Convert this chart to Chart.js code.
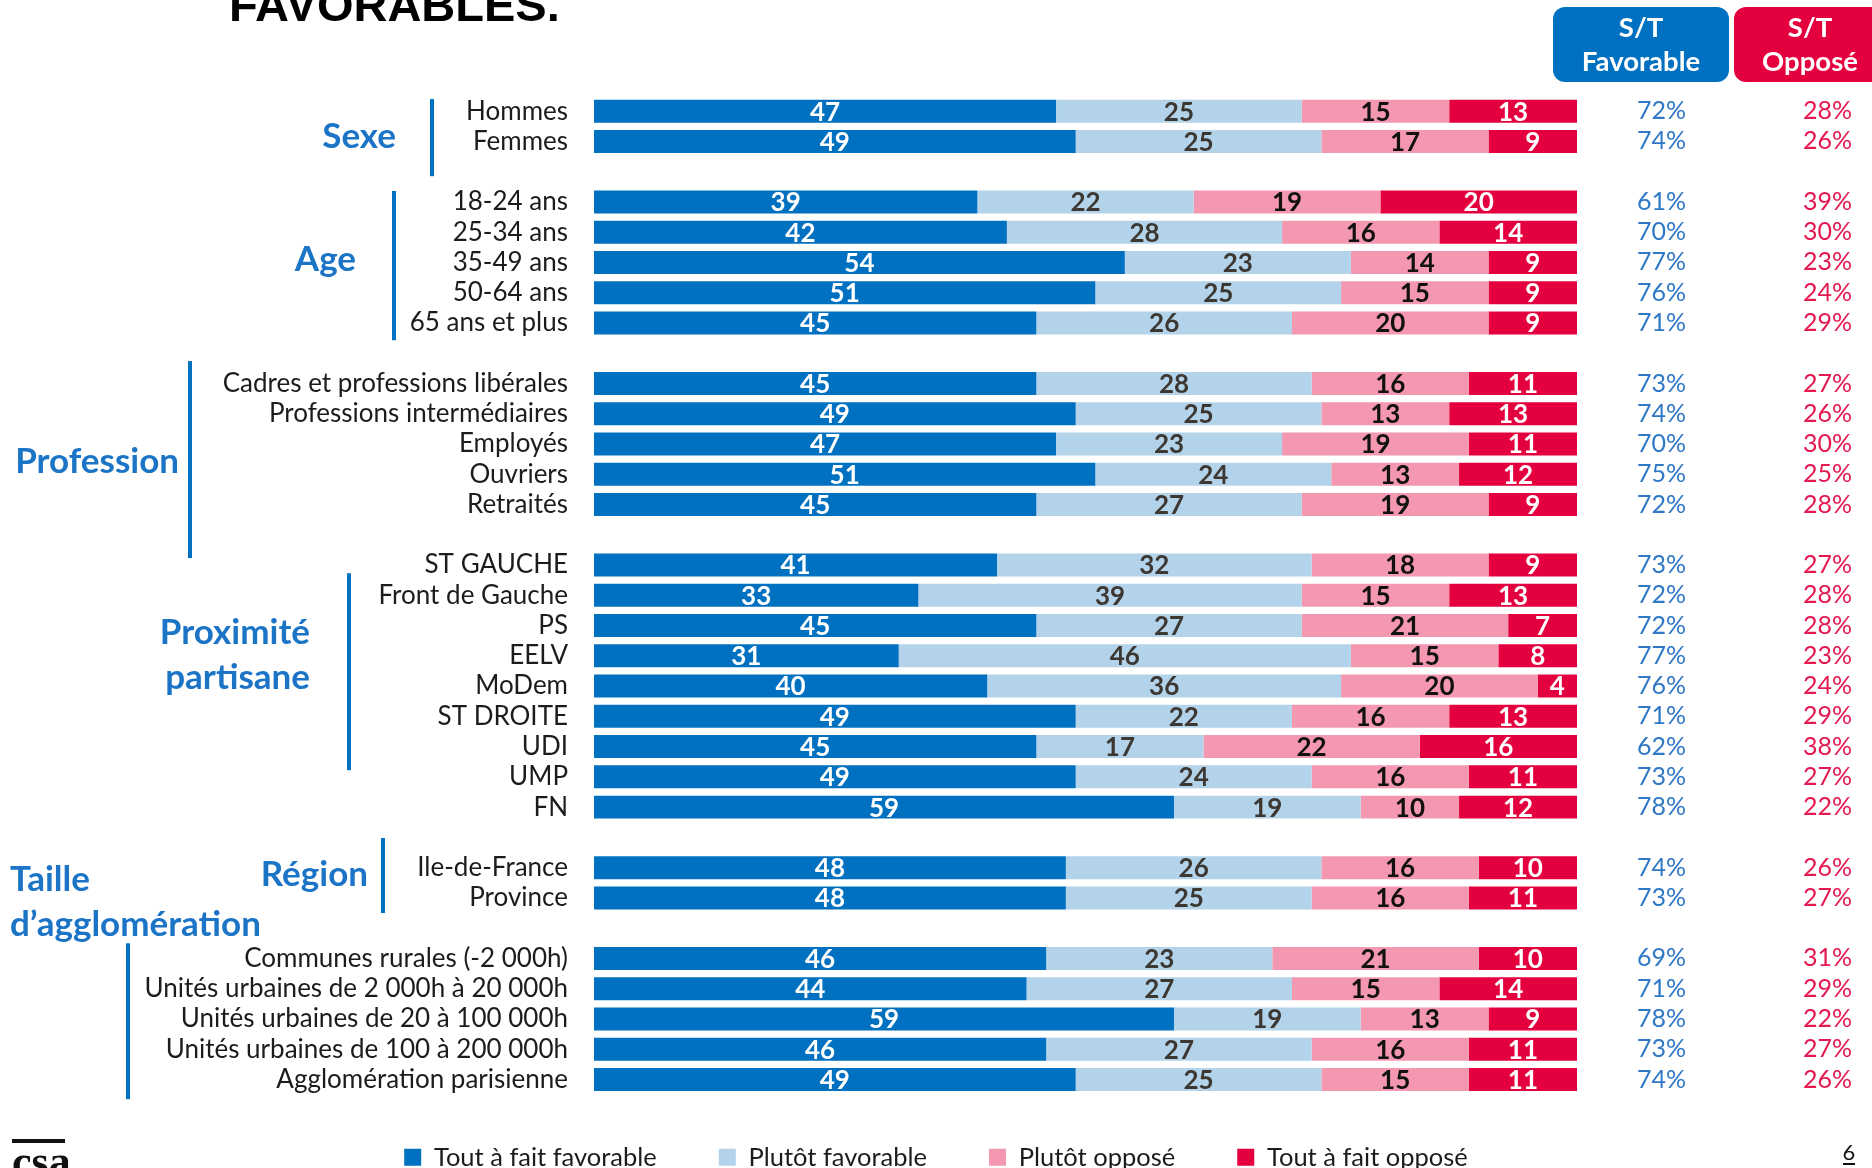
<!DOCTYPE html>
<html>
<head>
<meta charset="utf-8">
<script src="https://cdn.jsdelivr.net/npm/chart.js@4.4.1/dist/chart.umd.min.js"></script>
<style>
  html, body { margin: 0; padding: 0; background: #fff; }
  #wrap { position: relative; width: 1872px; height: 1168px; }
</style>
</head>
<body>
<div id="wrap"><canvas id="chart"></canvas></div>
<script>
// rows, '' = spacer between groups
const categories = [
  'Hommes', 'Femmes', '',
  '18-24 ans', '25-34 ans', '35-49 ans', '50-64 ans', '65 ans et plus', '',
  'Cadres et professions libérales', 'Professions intermédiaires', 'Employés', 'Ouvriers', 'Retraités', '',
  'ST GAUCHE', 'Front de Gauche', 'PS', 'EELV', 'MoDem', 'ST DROITE', 'UDI', 'UMP', 'FN', '',
  'Ile-de-France', 'Province', '',
  'Communes rurales (-2 000h)', 'Unités urbaines de 2 000h à 20 000h', 'Unités urbaines de 20 à 100 000h',
  'Unités urbaines de 100 à 200 000h', 'Agglomération parisienne'
];

const toutFavorable = [47, 49, null, 39, 42, 54, 51, 45, null, 45, 49, 47, 51, 45, null,
  41, 33, 45, 31, 40, 49, 45, 49, 59, null, 48, 48, null, 46, 44, 59, 46, 49];
const plutotFavorable = [25, 25, null, 22, 28, 23, 25, 26, null, 28, 25, 23, 24, 27, null,
  32, 39, 27, 46, 36, 22, 17, 24, 19, null, 26, 25, null, 23, 27, 19, 27, 25];
const plutotOppose = [15, 17, null, 19, 16, 14, 15, 20, null, 16, 13, 19, 13, 19, null,
  18, 15, 21, 15, 20, 16, 22, 16, 10, null, 16, 16, null, 21, 15, 13, 16, 15];
const toutOppose = [13, 9, null, 20, 14, 9, 9, 9, null, 11, 13, 11, 12, 9, null,
  9, 13, 7, 8, 4, 13, 16, 11, 12, null, 10, 11, null, 10, 14, 9, 11, 11];

const stFavorable = [72, 74, null, 61, 70, 77, 76, 71, null, 73, 74, 70, 75, 72, null,
  73, 72, 72, 77, 76, 71, 62, 73, 78, null, 74, 73, null, 69, 71, 78, 73, 74];
const stOppose = [28, 26, null, 39, 30, 23, 24, 29, null, 27, 26, 30, 25, 28, null,
  27, 28, 28, 23, 24, 29, 38, 27, 22, null, 26, 27, null, 31, 29, 22, 27, 26];

const seriesNames = ['Tout à fait favorable', 'Plutôt favorable', 'Plutôt opposé', 'Tout à fait opposé'];

const BLUE = '#0070C0', LIGHT = '#B2D3EA', PINK = '#F497B0', RED = '#E4003E';
const FAV_TXT = '#2F78C6', OPP_TXT = '#E4194F', GROUP_TXT = '#1B74C5';
const labelColors = ['#ffffff', '#3d3731', '#111111', '#ffffff'];

// group captions and their side bars, in row units
const groups = [
  { lines: ['Sexe'], row: 0.86, x: 396, align: 'right', bar: [432, -0.4, 2.15] },
  { lines: ['Age'], row: 4.9, x: 356, align: 'right', bar: [394, 2.64, 7.57] },
  { lines: ['Profession'], row: 11.57, x: 179, align: 'right', bar: [190, 8.26, 14.77] },
  { lines: ['Proximité', 'partisane'], row: 17.25, x: 310, align: 'right', bar: [349, 15.27, 21.78] },
  { lines: ['Région'], row: 25.25, x: 368, align: 'right', bar: [383, 24.02, 26.5] },
  { lines: ['Taille', 'd’agglomération'], row: 25.4, x: 10, align: 'left', bar: [128, 27.5, 32.65] }
];

const segmentLabels = {
  id: 'segmentLabels',
  afterDatasetsDraw(chart) {
    const ctx = chart.ctx;
    ctx.save();
    ctx.font = 'bold 26px Lato';
    ctx.textAlign = 'center';
    ctx.textBaseline = 'middle';
    chart.data.datasets.forEach((ds, i) => {
      chart.getDatasetMeta(i).data.forEach((bar, j) => {
        const v = ds.data[j];
        if (v == null) return;
        ctx.fillStyle = labelColors[i];
        ctx.fillText(v, (bar.x + bar.base) / 2, bar.y + 1);
      });
    });
    ctx.restore();
  }
};

const decor = {
  id: 'decor',
  afterLayout(chart) {
    // legend padding doubles as item spacing; lift the row back up
    // and let its clip box run to the bottom edge
    const lg = chart.legend;
    lg.top -= 12;
    lg.bottom = chart.height;
    lg.height = lg.bottom - lg.top;
  },
  afterDraw(chart) {
    const ctx = chart.ctx, y = chart.scales.y;
    ctx.save();

    // title (cut at top of slide)
    ctx.fillStyle = '#000';
    ctx.font = 'bold 47px "Liberation Sans"';
    ctx.textBaseline = 'alphabetic';
    ctx.textAlign = 'left';
    ctx.fillText('FAVORABLES.', 229, 21);

    // group bars + captions
    groups.forEach(g => {
      const [bx, r0, r1] = g.bar;
      ctx.fillStyle = BLUE;
      ctx.fillRect(bx - 2, y.getPixelForValue(r0), 4, y.getPixelForValue(r1) - y.getPixelForValue(r0));
      ctx.fillStyle = GROUP_TXT;
      ctx.font = 'bold 35px Lato';
      ctx.textAlign = g.align;
      ctx.textBaseline = 'middle';
      g.lines.forEach((t, k) => ctx.fillText(t, g.x, y.getPixelForValue(g.row) + k * 45));
    });

    // header boxes
    const heads = [
      { x: 1553, w: 176, color: BLUE, cx: 1641, text: ['S/T', 'Favorable'] },
      { x: 1734, w: 160, color: RED, cx: 1810, text: ['S/T', 'Opposé'] }
    ];
    heads.forEach(h => {
      ctx.fillStyle = h.color;
      ctx.beginPath();
      ctx.roundRect(h.x, 7, h.w, 75, 12);
      ctx.fill();
      ctx.fillStyle = '#fff';
      ctx.font = 'bold 27.5px Lato';
      ctx.textAlign = 'center';
      ctx.textBaseline = 'middle';
      ctx.fillText(h.text[0], h.cx, 28);
      ctx.fillText(h.text[1], h.cx, 62);
    });

    // logo + page number
    ctx.fillStyle = '#111';
    ctx.fillRect(12, 1139, 53, 4);
    ctx.font = 'bold 44px "Liberation Sans Narrow"';
    ctx.textAlign = 'left';
    ctx.textBaseline = 'top';
    ctx.fillText('csa', 12, 1143);
    ctx.font = '22px Lato';
    ctx.textBaseline = 'alphabetic';
    ctx.textAlign = 'center';
    ctx.fillText('6', 1849, 1160);
    ctx.fillRect(1843, 1163, 12, 2);

    ctx.restore();
  }
};

// right-hand percentage columns drawn as category axes
const pctAxis = (values, color, width, weight) => ({
  type: 'category',
  position: 'right',
  offset: true,
  weight: weight,
  grid: { display: false, drawTicks: false },
  border: { display: false },
  ticks: {
    autoSkip: false,
    padding: 0,
    color: color,
    font: { family: 'Lato', size: 25 },
    callback: (v, i) => values[i] == null ? '' : values[i] + '%'
  },
  afterFit: s => { s.width = width; }
});

function build() {
  new Chart(document.getElementById('chart'), {
    type: 'bar',
    data: {
      labels: categories,
      datasets: [
        { label: seriesNames[0], data: toutFavorable, backgroundColor: BLUE },
        { label: seriesNames[1], data: plutotFavorable, backgroundColor: LIGHT },
        { label: seriesNames[2], data: plutotOppose, backgroundColor: PINK },
        { label: seriesNames[3], data: toutOppose, backgroundColor: RED }
      ]
    },
    options: {
      indexAxis: 'y',
      responsive: true,
      maintainAspectRatio: false,
      animation: false,
      datasets: { bar: { categoryPercentage: 1, barPercentage: 0.76, borderWidth: 0 } },
      layout: { padding: { top: 96, bottom: 0, left: 0, right: 0 } },
      scales: {
        x: { stacked: true, display: false, min: 0, max: 100 },
        y: {
          stacked: true,
          grid: { display: false, drawTicks: false },
          border: { display: false },
          ticks: { autoSkip: false, padding: 26, color: '#1c1c1c', font: { family: 'Lato', size: 26 } },
          afterFit: s => { s.width = 594; }
        },
        gap: {
          type: 'category',
          position: 'right',
          weight: 0,
          grid: { display: false, drawTicks: false },
          border: { display: false },
          ticks: { display: false },
          afterFit: s => { s.width = 60; }
        },
        yFav: pctAxis(stFavorable, FAV_TXT, 166, 1),
        yOpp: pctAxis(stOppose, OPP_TXT, 69, 2)
      },
      plugins: {
        tooltip: { enabled: false },
        legend: {
          position: 'bottom',
          maxHeight: 73.4,
          labels: {
            boxWidth: 17,
            boxHeight: 17,
            padding: 62,
            color: '#1c1c1c',
            font: { family: 'Lato', size: 25.5 }
          }
        }
      }
    },
    plugins: [segmentLabels, decor]
  });
}

Promise.all([
  document.fonts.load('24px Lato'),
  document.fonts.load('bold 24px Lato'),
  document.fonts.load('bold 46px "Liberation Sans"')
]).then(build, build);
</script>
</body>
</html>
